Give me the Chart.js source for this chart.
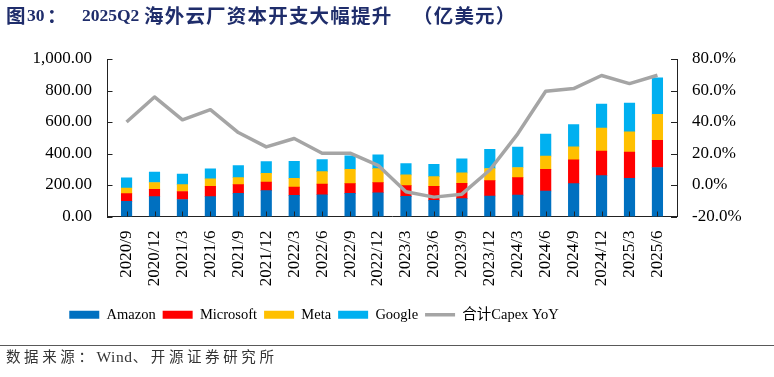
<!DOCTYPE html>
<html>
<head>
<meta charset="utf-8">
<script src="https://cdn.jsdelivr.net/npm/chart.js@4.4.1/dist/chart.umd.min.js"></script>
<style>
  html, body { margin: 0; padding: 0; background: #fff; }
  #wrap { position: relative; width: 774px; height: 377px; overflow: hidden; background: #fff; }
  #c { position: absolute; left: 0; top: 0; }
  .t { position: absolute; top: 3px; white-space: nowrap; color: #1F2D6B; font-weight: bold; line-height: 24px; }
  .cj { font-family: "Noto Sans CJK SC", sans-serif; font-size: 19.5px; letter-spacing: 1.2px; }
  .la { font-family: "Liberation Serif", serif; font-size: 17.5px; }
  #rule { position: absolute; left: 0; top: 345px; width: 774px; height: 1px; background: #595959; }
  #src { position: absolute; left: 6px; top: 347px; white-space: nowrap; font-family: "Liberation Serif", "Noto Sans CJK SC", serif; font-size: 14.5px; letter-spacing: 3.6px; color: #333; line-height: 20px; }
  #src .w { letter-spacing: 0.6px; font-size: 15.5px; }
</style>
</head>
<body>
<div id="wrap">
  <canvas id="c" width="774" height="377"></canvas>
  <span class="t cj" style="left:6px">图</span>
  <span class="t la" style="left:27px">30</span>
  <span class="t cj" style="left:47px">：</span>
  <span class="t la" style="left:82px">2025Q2</span>
  <span class="t cj" style="left:144px">海外云厂资本开支大幅提升</span>
  <span class="t cj" style="left:413px">（亿美元）</span>
  <div id="rule"></div>
  <div id="src">数据来源：<span class="w">Wind</span>、开源证券研究所</div>
</div>
<script>
const labels = ['2020/9','2020/12','2021/3','2021/6','2021/9','2021/12','2022/3','2022/6','2022/9','2022/12','2023/3','2023/6','2023/9','2023/12','2024/3','2024/6','2024/9','2024/12','2025/3','2025/6'];
const amazon    = [96,126,108,126,147,164,134,138,147,151,128,102,113,130,136,162,209,260,243,311];
const microsoft = [49,47,51,66,55,55,53,68,62,64,68,89,98,98,111,138,151,155,166,172];
const meta      = [36,43,43,47,45,55,55,79,91,89,68,62,66,77,64,83,83,147,128,166];
const google    = [64,66,68,64,77,75,108,77,85,87,72,79,89,121,130,140,140,151,183,232];
const capexYoY  = [40.0,55.9,41.4,47.8,33.3,24.2,29.5,20.2,20.2,12.5,-4.3,-7.7,-5.8,9.5,32.5,59.5,61.2,69.5,64.4,69.7];
const leftTicks = [0,200,400,600,800,1000];
const rightTicks = [-20,0,20,40,60,80];

const pts = arr => arr.map((v, i) => ({x: i, y: v}));
const SERIF = "'Liberation Serif','Noto Sans CJK SC',serif";
Chart.defaults.font.family = SERIF;
Chart.defaults.color = '#000';

const innerTicks = {
  id: 'innerTicks',
  afterDatasetsDraw(chart) {
    const {ctx, chartArea: ca, scales} = chart;
    ctx.save();
    ctx.strokeStyle = '#222';
    ctx.lineWidth = 1;
    ctx.beginPath();
    scales.y.ticks.forEach(t => {
      const py = Math.round(scales.y.getPixelForValue(t.value)) + 0.5;
      ctx.moveTo(ca.left, py); ctx.lineTo(ca.left + 5.5, py);
    });
    scales.y1.ticks.forEach(t => {
      const py = Math.round(scales.y1.getPixelForValue(t.value)) + 0.5;
      ctx.moveTo(ca.right, py); ctx.lineTo(ca.right - 6, py);
    });
    scales.x.ticks.forEach(t => {
      const px = Math.round(scales.x.getPixelForValue(t.value)) + 0.5;
      ctx.moveTo(px, ca.bottom); ctx.lineTo(px, ca.bottom - 5);
    });
    ctx.stroke();
    ctx.restore();
  }
};

const shiftLegend = {
  id: 'shiftLegend',
  afterLayout(chart) {
    if (chart.legend) { chart.legend.left -= 73; chart.legend.right -= 73; }
  }
};

const barDs = (label, data, color) => ({
  type: 'bar', label, data: pts(data), backgroundColor: color, borderWidth: 0,
  barThickness: 10.5, yAxisID: 'y', order: 1
});

new Chart(document.getElementById('c'), {
  type: 'bar',
  data: {
    datasets: [
      barDs('Amazon', amazon, '#0070C0'),
      barDs('Microsoft', microsoft, '#FF0000'),
      barDs('Meta', meta, '#FFC000'),
      barDs('Google', google, '#00B0F0'),
      { type: 'line', label: '合计Capex YoY', data: pts(capexYoY), yAxisID: 'y1',
        borderColor: '#A5A5A5', backgroundColor: '#A5A5A5', borderWidth: 3.5,
        pointRadius: 0, tension: 0, borderJoinStyle: 'round', order: 0 }
    ]
  },
  options: {
    responsive: false, animation: false, devicePixelRatio: 1,
    layout: { padding: { left: 0, right: 0, top: 59, bottom: 45 } },
    plugins: {
      title: { display: false }, tooltip: { enabled: false },
      legend: {
        position: 'bottom',
        labels: {
          usePointStyle: true, pointStyleWidth: 30, boxHeight: 8, padding: 7,
          font: { size: 14.5, family: SERIF }, color: '#000',
          sort: (a, b) => a.datasetIndex - b.datasetIndex,
          generateLabels(chart) {
            const items = Chart.defaults.plugins.legend.labels.generateLabels(chart);
            items.forEach(it => {
              const ds = chart.data.datasets[it.datasetIndex];
              if (ds.type === 'line') { it.pointStyle = 'line'; it.lineWidth = 3.5; it.strokeStyle = ds.borderColor; }
              else { it.pointStyle = 'rect'; it.lineWidth = 0; }
            });
            return items;
          }
        }
      }
    },
    scales: {
      x: {
        type: 'linear', stacked: true, min: -0.19, max: 19.19,
        afterBuildTicks: s => { s.ticks = labels.map((_, i) => ({ value: i })); },
        afterFit: s => { s.height = 84; },
        grid: { display: false, drawTicks: false },
        border: { display: true, color: '#222', width: 1 },
        ticks: { autoSkip: false, minRotation: 90, maxRotation: 90, padding: 14,
          font: { size: 17 }, color: '#000', callback: v => labels[v] ?? '' }
      },
      y: {
        type: 'linear', position: 'left', stacked: true, min: 0, max: 1000,
        afterBuildTicks: s => { s.ticks = leftTicks.map(v => ({ value: v })); },
        afterFit: s => { s.width = 107; },
        grid: { display: false, drawTicks: false },
        border: { display: true, color: '#222', width: 1 },
        ticks: { padding: 15, font: { size: 17 }, color: '#000',
          callback: v => v.toLocaleString('en-US', { minimumFractionDigits: 2, maximumFractionDigits: 2 }) }
      },
      y1: {
        type: 'linear', position: 'right', min: -20, max: 80,
        afterBuildTicks: s => { s.ticks = rightTicks.map(v => ({ value: v })); },
        afterFit: s => { s.width = 97; },
        grid: { display: false, drawTicks: false },
        border: { display: true, color: '#222', width: 1 },
        ticks: { padding: 15, font: { size: 17 }, color: '#000', callback: v => v.toFixed(1) + '%' }
      }
    }
  },
  plugins: [innerTicks, shiftLegend]
});
</script>
</body>
</html>
